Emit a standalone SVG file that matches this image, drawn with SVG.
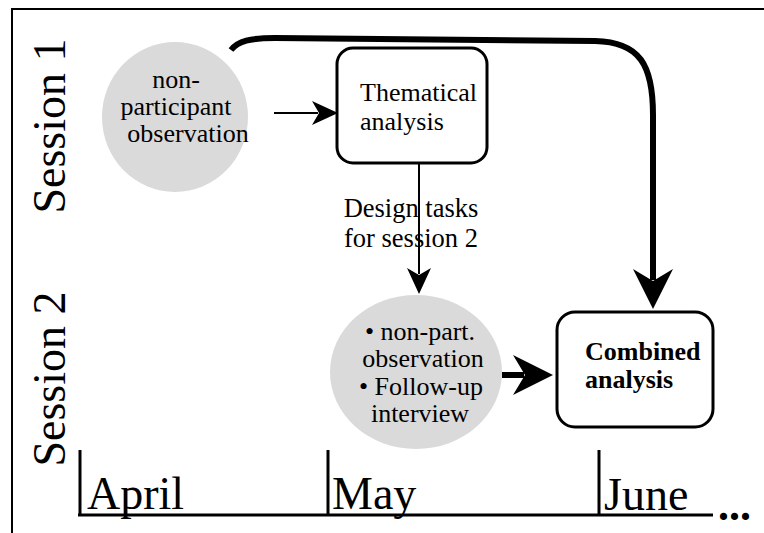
<svg xmlns="http://www.w3.org/2000/svg" width="764" height="533" viewBox="0 0 764 533">
<defs>
<style>
text{font-family:"Liberation Serif","Times New Roman",serif;fill:#000}
.lbl{font-size:26px;text-anchor:middle}
.big{font-size:46px}
.obs{fill:#dadada;stroke:none}
.box{fill:#fff;stroke:#000;stroke-width:3}
.thin{fill:none;stroke:#000;stroke-width:2}
.thick{fill:none;stroke:#000;stroke-width:6}
.axis{fill:none;stroke:#000;stroke-width:3}
</style>
<marker id="ah" markerUnits="userSpaceOnUse" viewBox="0 0 26 24" refX="6" refY="12" markerWidth="26" markerHeight="24" orient="auto">
<path d="M0,0 L26,12 L0,24 L7,12 z" fill="#000"/>
</marker>
<marker id="ahb" markerUnits="userSpaceOnUse" viewBox="0 0 40 40" refX="11" refY="20" markerWidth="40" markerHeight="40" orient="auto">
<path d="M0,0 L40,20 L0,40 L12,20 z" fill="#000"/>
</marker>
</defs>
<rect x="12" y="9" width="800" height="600" fill="none" stroke="#000" stroke-width="2"/>
<g id="session-labels">
<text class="big" text-anchor="middle" transform="translate(65,126) rotate(-90)">Session 1</text>
<text class="big" text-anchor="middle" transform="translate(65,379) rotate(-90)">Session 2</text>
</g>
<g id="timeline">
<line class="axis" x1="78" y1="515" x2="713" y2="515"/>
<line class="axis" x1="80" y1="450" x2="80" y2="516"/>
<line class="axis" x1="328" y1="450" x2="328" y2="516"/>
<line class="axis" x1="599" y1="450" x2="599" y2="516"/>
<text class="big" x="87" y="509">April</text>
<text class="big" x="332" y="509">May</text>
<text class="big" x="604" y="510">June</text>
<text class="big" x="718" y="520" style="font-weight:bold;font-size:44px">...</text>
</g>
<g id="connectors">
<line class="thin" x1="274" y1="113" x2="318" y2="113" marker-end="url(#ah)"/>
<line class="thin" x1="419" y1="163" x2="419" y2="274" marker-end="url(#ah)"/>
<line class="thick" x1="502" y1="375" x2="524" y2="375" marker-end="url(#ahb)"/>
<path class="thick" d="M231,50 C238,41 250,38 275,38 L595,41 C640,42 653,65 653,115 L653,280" marker-end="url(#ahb)"/>
</g>
<g id="obs1">
<ellipse class="obs" cx="175" cy="117" rx="73" ry="75"/>
<text class="lbl" x="176" y="88">non-</text>
<text class="lbl" x="176" y="115">participant</text>
<text class="lbl" x="188" y="142">observation</text>
</g>
<g id="thematic">
<rect class="box" x="337" y="48" width="150" height="115" rx="16"/>
<text class="lbl" x="360" y="101" style="text-anchor:start">Thematical</text>
<text class="lbl" x="360" y="130" style="text-anchor:start">analysis</text>
</g>
<g id="design-label">
<text class="lbl" x="411" y="217" style="font-size:26.5px">Design tasks</text>
<text class="lbl" x="411" y="247" style="font-size:26.5px">for session 2</text>
</g>
<g id="obs2">
<ellipse class="obs" cx="416" cy="372" rx="86" ry="77"/>
<text class="lbl" x="420" y="340">•  non-part.</text>
<text class="lbl" x="423" y="367">observation</text>
<text class="lbl" x="421" y="395">•  Follow-up</text>
<text class="lbl" x="420" y="422">interview</text>
</g>
<g id="combined">
<rect class="box" x="557" y="312" width="156" height="115" rx="18"/>
<text class="lbl" x="585" y="360" style="text-anchor:start;font-weight:bold">Combined</text>
<text class="lbl" x="585" y="388" style="text-anchor:start;font-weight:bold">analysis</text>
</g>
</svg>
